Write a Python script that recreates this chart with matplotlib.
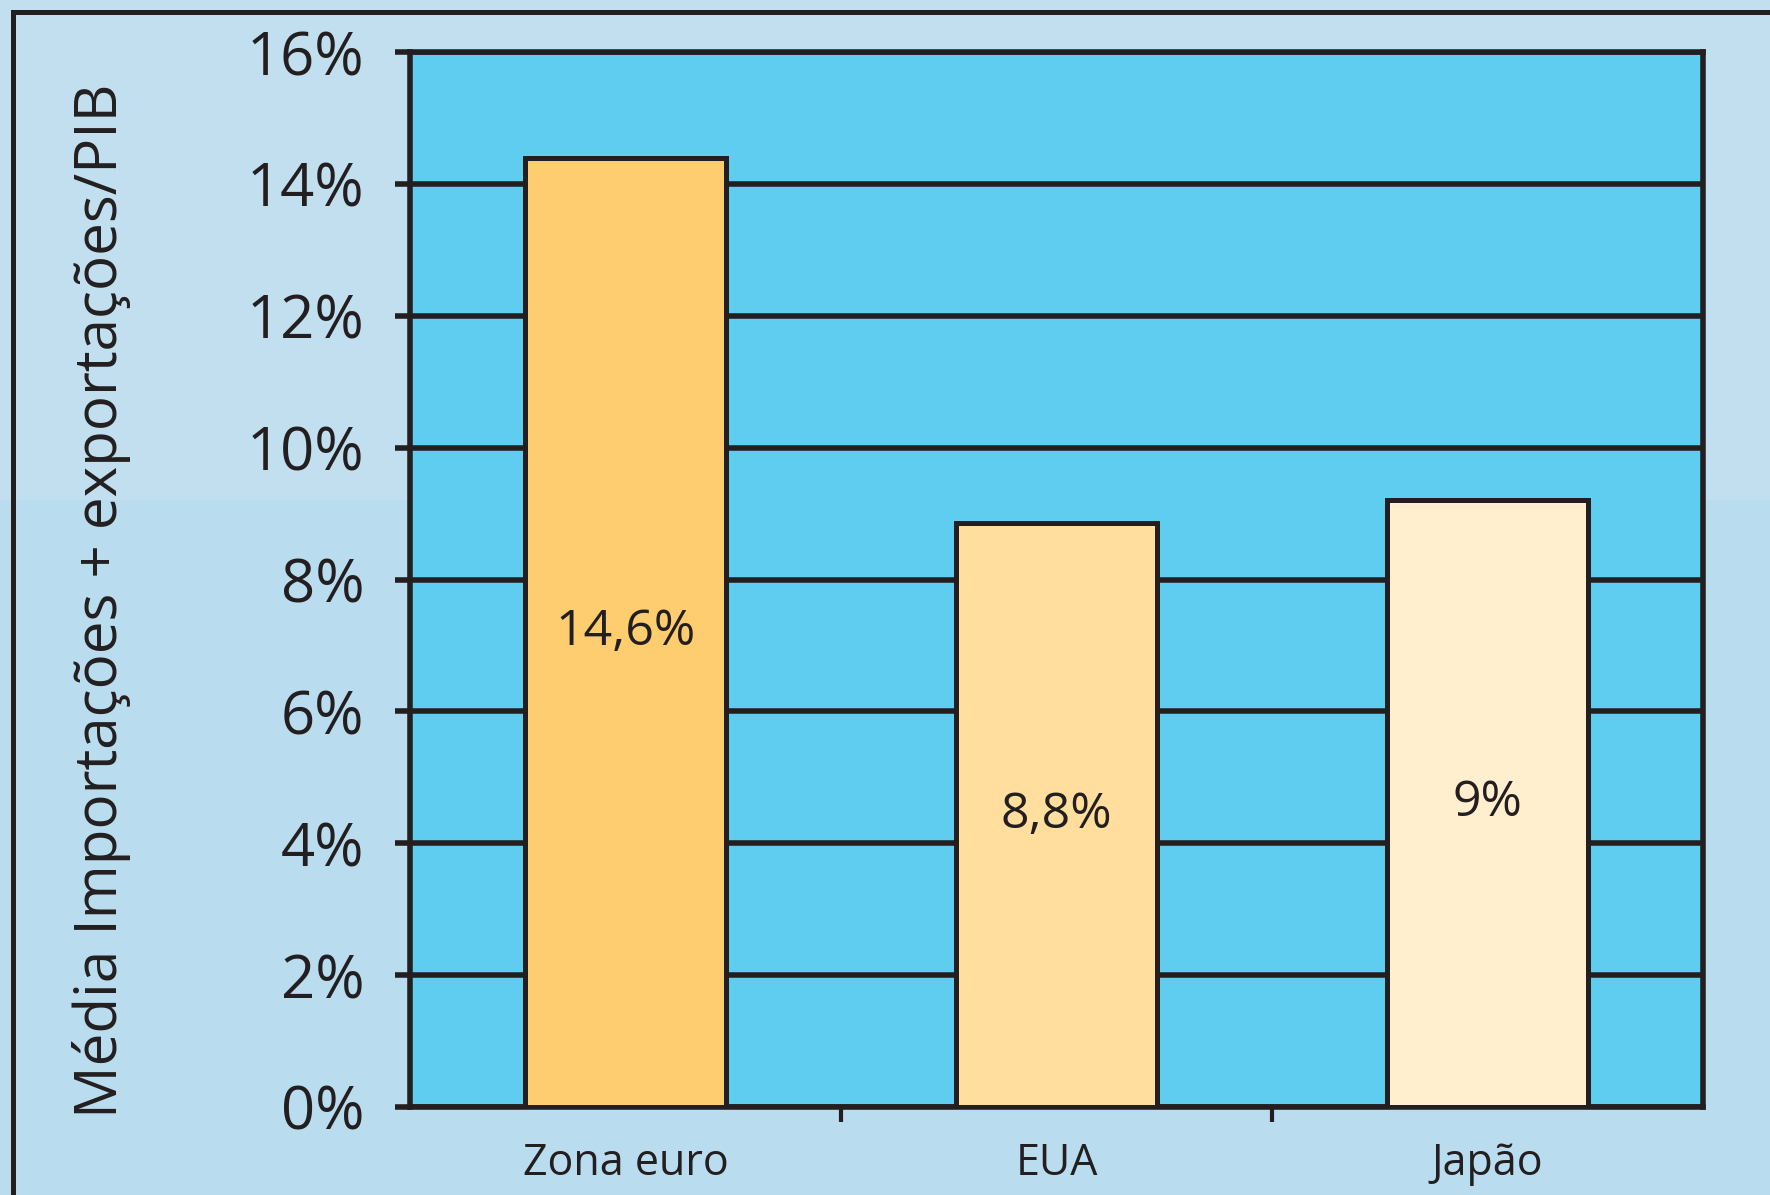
import matplotlib
matplotlib.use("Agg")
import matplotlib.pyplot as plt
from matplotlib.patches import Rectangle
from matplotlib.ticker import FixedLocator

plt.rcParams['font.family'] = ['Open Sans', 'DejaVu Sans']

categories = ["Zona euro", "EUA", "Japão"]
bar_heights = [14.4, 8.85, 9.2]
bar_labels = ["14,6%", "8,8%", "9%"]
y_ticks = [0, 2, 4, 6, 8, 10, 12, 14, 16]
y_tick_labels = ["0%", "2%", "4%", "6%", "8%", "10%", "12%", "14%", "16%"]
y_title = "Média Importações + exportações/PIB"

bar_colors = ["#FDCD70", "#FFDE9E", "#FFEFCE"]
dark = "#231F20"
W, H = 1770, 1195

fig = plt.figure(figsize=(W / 100, H / 100), dpi=100)
fig.patch.set_facecolor("#C1DFEF")
# lower halftone background area
fig.add_artist(Rectangle((0, 0), 1, 1 - 500 / H, transform=fig.transFigure,
                         facecolor="#BADCEF", edgecolor="none", zorder=0))
# outer frame (cropped on right and bottom)
fig.add_artist(Rectangle((13 / W, -0.2), 1.5, 1.2 - 12 / H, transform=fig.transFigure,
                         fill=False, edgecolor=dark, linewidth=3.6, zorder=1))

ax = fig.add_axes([410 / W, 1 - 1107 / H, (1703 - 410) / W, (1107 - 52) / H])
ax.set_facecolor("#5FCDF0")
ax.set_axisbelow(True)

x = list(range(len(categories)))
ax.bar(x, bar_heights, width=0.465, color=bar_colors, edgecolor=dark,
       linewidth=3.6, zorder=3)
for xi, h, lab in zip(x, bar_heights, bar_labels):
    ax.text(xi, h / 2, lab, ha="center", va="center", fontsize=36,
            color=dark, zorder=4)

ax.set_xlim(-0.5, 2.5)
ax.set_ylim(0, 16)
ax.set_yticks(y_ticks)
ax.set_yticklabels(y_tick_labels)
ax.set_xticks(x)
ax.set_xticklabels(categories)
ax.xaxis.set_minor_locator(FixedLocator([0.5, 1.5]))

ax.yaxis.grid(True, color=dark, linewidth=4)
ax.tick_params(axis="y", length=11, width=4, color=dark, pad=22,
               labelsize=43, labelcolor=dark)
ax.tick_params(axis="x", which="major", length=0, pad=25,
               labelsize=31, labelcolor=dark)
ax.tick_params(axis="x", which="minor", length=11, width=3, color=dark)
for s in ax.spines.values():
    s.set_linewidth(4)
    s.set_color(dark)

fig.text(102 / W, 1 - 601 / H, y_title, rotation=90, ha="center", va="center",
         fontsize=42, color=dark)

fig.savefig("out.png", dpi=100, facecolor=fig.get_facecolor())
